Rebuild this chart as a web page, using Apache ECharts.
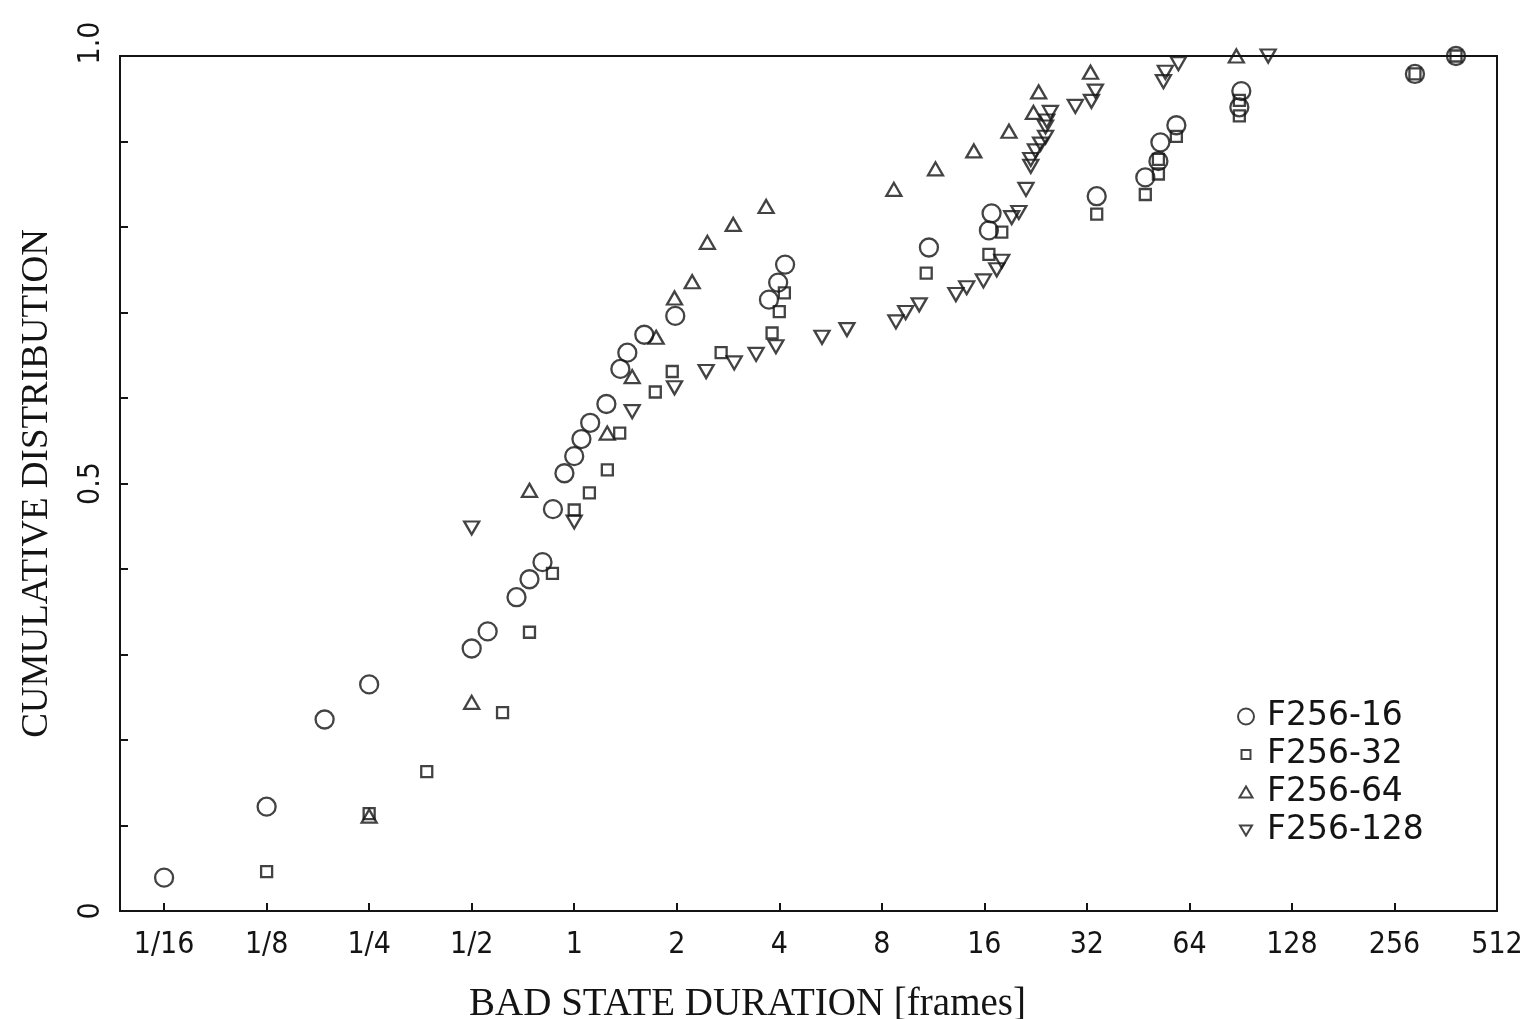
<!DOCTYPE html>
<html>
<head>
<meta charset="utf-8">
<script src="https://cdn.jsdelivr.net/npm/echarts@6/dist/echarts.min.js"></script>
<style>
  html, body { margin: 0; padding: 0; background: #fff; }
  #chart { width: 1532px; height: 1019px; }
</style>
</head>
<body>
<div id="chart"></div>
<script>
// x axis is log2 of the duration in frames
const xTickValues = [1/16, 1/8, 1/4, 1/2, 1, 2, 4, 8, 16, 32, 64, 128, 256, 512];
const xTickLabels = ['1/16', '1/8', '1/4', '1/2', '1', '2', '4', '8', '16', '32', '64', '128', '256', '512'];
const yTickLabels = { 0: '0', 5: '0.5', 10: '{top|1.0}' };

const seriesNames = ['F256-16', 'F256-32', 'F256-64', 'F256-128'];

// F256-16 (circles)
const f16x = [0.0625, 0.125, 0.185, 0.25, 0.5, 0.557, 0.677, 0.739, 0.807, 0.866, 0.936, 1.0, 1.05, 1.114, 1.243, 1.366,
  1.432, 1.606, 1.98, 3.73, 3.97, 4.16, 11.0, 16.5, 16.8, 34.2, 47.5, 51.9, 52.6, 58.6, 89.7, 90.9, 294, 388];
const f16y = [0.039, 0.122, 0.224, 0.265, 0.307, 0.327, 0.367, 0.388, 0.408, 0.470, 0.512, 0.532, 0.552, 0.571, 0.593, 0.634,
  0.653, 0.674, 0.696, 0.715, 0.735, 0.756, 0.776, 0.796, 0.816, 0.836, 0.858, 0.877, 0.899, 0.919, 0.940, 0.959, 0.979, 1.0];

// F256-32 (squares)
const f32x = [0.125, 0.25, 0.369, 0.616, 0.739, 0.863, 1.0, 1.108, 1.251, 1.36, 1.73, 1.94, 2.70, 3.81, 4.0, 4.14,
  10.8, 16.5, 18.0, 34.2, 47.5, 51.9, 51.9, 58.6, 89.7, 89.7, 294, 388];
const f32y = [0.046, 0.114, 0.163, 0.232, 0.326, 0.395, 0.469, 0.489, 0.516, 0.559, 0.607, 0.631, 0.653, 0.676, 0.701, 0.723,
  0.746, 0.768, 0.794, 0.815, 0.838, 0.862, 0.879, 0.906, 0.930, 0.948, 0.979, 1.0];

// F256-64 (up triangles)
const f64x = [0.25, 0.5, 0.739, 1.25, 1.48, 1.74, 1.97, 2.22, 2.46, 2.93, 3.66, 8.68, 11.5, 14.9, 18.9, 22.3, 23.1, 32.8, 87.9];
const f64y = [0.111, 0.244, 0.492, 0.559, 0.625, 0.671, 0.717, 0.736, 0.782, 0.803, 0.824, 0.844, 0.868, 0.889, 0.912, 0.934,
  0.958, 0.981, 1.0];

// F256-128 (down triangles)
const f128x = [0.5, 1.0, 1.48, 1.97, 2.44, 2.95, 3.42, 3.91, 5.34, 6.32, 8.8, 9.4, 10.3, 13.2, 14.2, 15.9, 17.4, 18.0,
  19.25, 20.2, 21.2, 21.9, 21.9, 22.6, 23.4, 24.2, 24.2, 24.4, 25.0, 29.6, 33.0, 33.9, 53.7, 54.4, 59.4, 109];
const f128y = [0.448, 0.455, 0.584, 0.612, 0.631, 0.641, 0.651, 0.660, 0.671, 0.680, 0.689, 0.700, 0.709, 0.721, 0.729, 0.737,
  0.750, 0.760, 0.811, 0.817, 0.844, 0.871, 0.879, 0.889, 0.897, 0.905, 0.917, 0.924, 0.934, 0.941, 0.947, 0.959, 0.970,
  0.981, 0.991, 1.0];

const ink = '#141414';
const tickFont = '"Liberation Sans Narrow", "DejaVu Sans Condensed", "Liberation Sans", sans-serif';
const nameFont = '"Liberation Serif", "DejaVu Serif", serif';

const toPoints = (xs, ys) => xs.map((x, i) => [Math.log2(x), ys[i]]);
const hollow = { color: 'rgba(0,0,0,0)', borderColor: ink, borderWidth: 2.3 };

// legend icons carry empty margins so each symbol keeps its own size
const legendIcons = [
  'path://M0,0 M30,24 M6,12 A8,8 0 1 1 22,12 A8,8 0 1 1 6,12 Z',
  'path://M0,0 M30,24 M9.5,7.5 L18.5,7.5 L18.5,16.5 L9.5,16.5 Z',
  'path://M0,0 M30,24 M7.5,17 L20.5,17 L14,6 Z',
  'path://M0,0 M30,24 M8,7 L20,7 L14,17 Z'
];

const chart = echarts.init(document.getElementById('chart'));

const option = {
  animation: false,
  backgroundColor: '#fff',
  grid: {
    left: 120, right: 35, top: 56, bottom: 108,
    outerBoundsMode: 'none',
    show: true, borderColor: ink, borderWidth: 2
  },
  legend: {
    orient: 'vertical',
    left: 1231,
    top: 700,
    padding: 0,
    itemWidth: 30,
    itemHeight: 24,
    itemGap: 5,
    selectedMode: false,
    itemStyle: { color: 'rgba(0,0,0,0)', borderColor: ink, borderWidth: 2 },
    textStyle: { fontFamily: '"DejaVu Sans", sans-serif', fontSize: 33, color: ink, lineHeight: 33 },
    data: seriesNames.map((n, i) => ({ name: n, icon: legendIcons[i] }))
  },
  xAxis: {
    type: 'value',
    min: -4.43,
    max: 9,
    name: 'BAD STATE DURATION [frames]',
    nameLocation: 'middle',
    nameGap: 74,
    nameTextStyle: { fontFamily: nameFont, fontSize: 39, color: ink, padding: [0, 122, 0, 0] },
    axisLine: { onZero: false, lineStyle: { color: ink, width: 2 } },
    axisTick: { inside: true, length: 8, lineStyle: { color: ink, width: 2 }, customValues: xTickValues.map(Math.log2) },
    axisLabel: {
      customValues: xTickValues.map(Math.log2),
      formatter: v => xTickLabels[Math.round(v) + 4],
      margin: 19,
      fontFamily: tickFont,
      fontSize: 30,
      color: ink
    },
    splitLine: { show: false }
  },
  yAxis: {
    type: 'value',
    min: 0,
    max: 1,
    interval: 0.1,
    name: 'CUMULATIVE DISTRIBUTION',
    nameLocation: 'middle',
    nameGap: 64,
    nameTextStyle: { fontFamily: nameFont, fontSize: 37, color: ink },
    axisLine: { onZero: false, lineStyle: { color: ink, width: 2 } },
    axisTick: { inside: true, length: 8, lineStyle: { color: ink, width: 2 } },
    axisLabel: {
      rotate: 90,
      margin: 14,
      fontFamily: tickFont,
      fontSize: 30,
      color: ink,
      rich: { top: { fontFamily: tickFont, fontSize: 30, color: ink, padding: [0, 0, 0, 26] } },
      formatter: v => yTickLabels[Math.round(v * 10)] || ''
    },
    splitLine: { show: false }
  },
  series: [
    { name: seriesNames[0], type: 'scatter', symbol: 'circle', symbolSize: 18, itemStyle: hollow, data: toPoints(f16x, f16y) },
    { name: seriesNames[1], type: 'scatter', symbol: 'rect', symbolSize: 11, itemStyle: hollow, data: toPoints(f32x, f32y) },
    { name: seriesNames[2], type: 'scatter', symbol: 'triangle', symbolSize: [15, 13], itemStyle: hollow, data: toPoints(f64x, f64y) },
    { name: seriesNames[3], type: 'scatter', symbol: 'path://M0,0 L20,0 L10,17 Z', symbolSize: [15, 13], itemStyle: hollow, data: toPoints(f128x, f128y) }
  ]
};

chart.setOption(option);
</script>
</body>
</html>
